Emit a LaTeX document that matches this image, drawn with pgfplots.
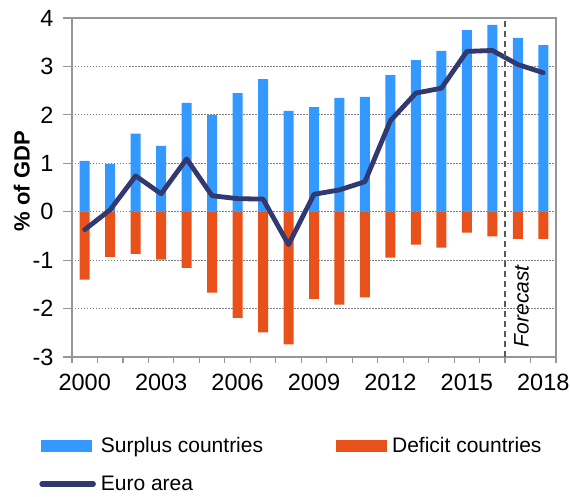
\documentclass[border=0pt]{standalone}
\usepackage{pgfplots}
\pgfplotsset{compat=1.18}
\usepackage{pgfplotstable}
\usepackage{fontspec}
\setmainfont{Liberation Sans}
\definecolor{surplus}{RGB}{51,153,255}
\definecolor{deficit}{RGB}{232,82,26}
\definecolor{euro}{RGB}{50,57,112}
\definecolor{axgray}{RGB}{150,150,150}

\pgfplotstableread{
year surplus deficit euro
2000 1.05 -1.40 -0.37
2001 0.99 -0.93 0.04
2002 1.61 -0.87 0.74
2003 1.36 -0.99 0.37
2004 2.25 -1.16 1.09
2005 2.00 -1.67 0.33
2006 2.45 -2.19 0.27
2007 2.74 -2.49 0.26
2008 2.08 -2.74 -0.68
2009 2.16 -1.80 0.36
2010 2.35 -1.92 0.45
2011 2.37 -1.77 0.62
2012 2.82 -0.95 1.88
2013 3.13 -0.68 2.45
2014 3.32 -0.74 2.55
2015 3.75 -0.43 3.31
2016 3.86 -0.51 3.33
2017 3.59 -0.56 3.04
2018 3.44 -0.56 2.87
}\data

\begin{document}
\begin{tikzpicture}
\path[use as bounding box] (-72pt,-139pt) rectangle (498pt,357pt);
\begin{axis}[
  scale only axis, width=484pt, height=339pt,
  at={(0,0)}, anchor=south west,
  xmin=1999.5, xmax=2018.5, ymin=-3, ymax=4,
  xtick={2000,2003,...,2018},
  minor xtick={1999.5,2000.5,...,2018.5},
  ytick={-3,-2,...,4},
  /pgf/number format/assume math mode=true,
  /pgf/number format/1000 sep={},
  tick align=outside, tick pos=left,
  major x tick style={draw=none},
  minor tick length=6pt, major tick length=9pt,
  tick style={axgray, line width=1.2pt},
  axis line style={axgray, line width=1.5pt},
  ymajorgrids,
  grid style={gray, line width=0.9pt, dash pattern=on 1.5pt off 1.5pt},
  ticklabel style={font=\fontsize{23.5}{27}\selectfont, text=black},
  xticklabel style={yshift=-5pt},
  yticklabel style={xshift=-6pt},
  ylabel={\textbf{\% of GDP}},
  ylabel style={at={(rel axis cs:-0.104,0.519)}, anchor=center, rotate=0, font=\fontsize{22}{26}\selectfont},
  legend columns=2,
  legend cell align=left,
  legend style={at={(rel axis cs:-0.074,-0.224)}, anchor=north west, draw=none, fill=none,
    font=\fontsize{21}{25}\selectfont, row sep=18pt,
    /tikz/every odd column/.append style={column sep=3pt},
    /tikz/every even column/.append style={column sep=71pt}},
]
\addplot[ybar, bar width=10pt, fill=surplus, draw=none,
  legend image code/.code={\fill[surplus] (0pt,-6pt) rectangle (51pt,6pt);}]
  table[x=year, y=surplus]{\data};
\addlegendentry{Surplus countries}
\addplot[ybar, bar width=10pt, fill=deficit, draw=none,
  legend image code/.code={\fill[deficit] (0pt,-6pt) rectangle (51pt,6pt);}]
  table[x=year, y=deficit]{\data};
\addlegendentry{Deficit countries}
\addplot[euro, line width=4.8pt, line join=round, line cap=round, mark=none,
  legend image code/.code={\draw[euro, line width=5.5pt, line cap=round] (1pt,0pt) -- (52pt,0pt);}]
  table[x=year, y=euro]{\data};
\addlegendentry{Euro area}
\addplot[forget plot, gray!70!black, line width=1.3pt, dash pattern=on 6pt off 4pt]
  coordinates {(2016.5,-3) (2016.5,4)};
\node[rotate=90, font=\itshape\fontsize{21}{25}\selectfont] at (axis cs:2017.15,-1.95) {Forecast};
\end{axis}
\end{tikzpicture}
\end{document}
